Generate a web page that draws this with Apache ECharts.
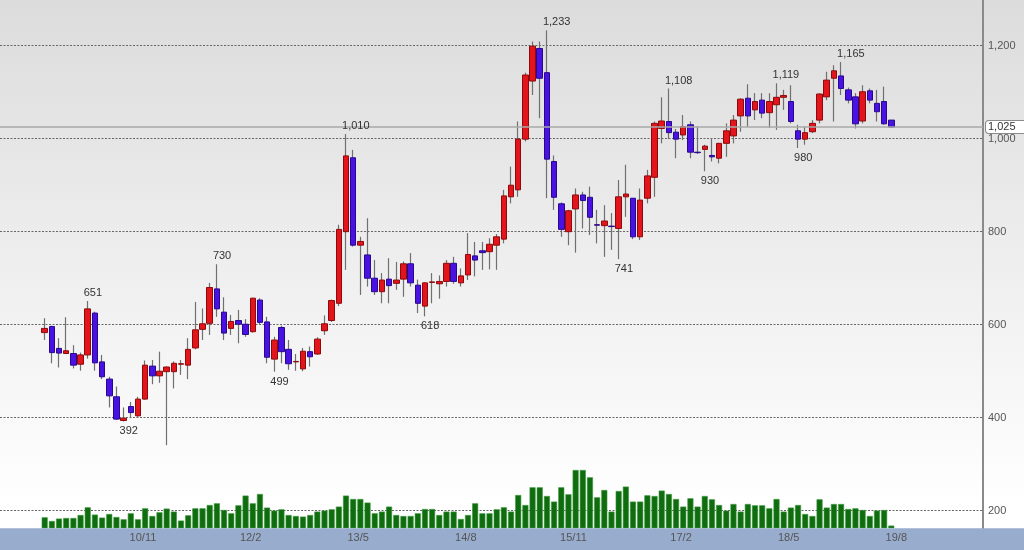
<!DOCTYPE html>
<html><head><meta charset="utf-8">
<script src="https://cdn.jsdelivr.net/npm/echarts@6/dist/echarts.min.js"></script>
<style>html,body{margin:0;padding:0;background:#fff}#c{width:1024px;height:550px}</style>
</head><body><div id="c"></div>
<script>
// Monthly candles 2009/10 .. 2019/8
const categories = [];
(function () { let y = 2009, m = 10; for (let i = 0; i < 119; i++) { categories.push(String(y % 100).padStart(2, '0') + '/' + m); m++; if (m > 12) { m = 1; y++; } } })();

const opens = [583,596,549,538,538,515,535,625,520,483, 445,394,424,404,440,511,490,499,499,515,
 513,550,590,603,677,627,592,609,601,585, 653,606,526,594,547,520,505,542,537,587,
 609,646,800,959,771,750,700,671,698,689, 698,731,685,640,691,688,693,732,690,707,
 748,759,757,771,784,875,890,999,1124,1194, 1142,951,860,800,849,879,874,815,813,812,
 807,875,872,789,872,917,1022,1037,1014,1008, 1030,971,977,964,958,990,1006,1049,1087,1062,
 1083,1056,1073,1089,1080,1017,999,1015,1040,1090, 1130,1135,1105,1090,1038,1103,1076,1080,1040];
const closes = [592,540,539,544,513,535,634,518,488,447, 397,399,411,440,513,490,500,509,517,516,
 547,589,602,680,634,582,607,601,579,657, 605,530,567,542,516,521,543,531,569,602,
 652,805,963,771,779,700,671,696,684,696, 731,690,646,690,692,693,732,693,705,751,
 739,755,773,789,877,900,999,1137,1199,1130, 956,874,805,845,879,867,831,814,823,811,
 875,881,789,868,920,1033,1038,1013,999,1026, 971,970,984,961,990,1017,1040,1085,1049,1080,
 1055,1080,1089,1093,1037,999,1013,1033,1096,1126, 1146,1108,1083,1032,1101,1083,1058,1032,1025];
const lows = [567,517,508,537,506,501,527,501,483,422, 395,392,399,402,439,472,475,341,463,492,
 483,547,567,578,617,567,578,560,574,583, 600,517,499,517,503,501,500,510,535,578,
 606,640,718,768,664,682,664,646,646,675, 660,682,625,618,646,656,682,688,682,696,
 704,718,719,718,775,861,875,994,1094,1044, 872,847,789,771,755,807,793,775,746,761,
 741,832,784,782,861,875,990,999,958,997, 958,967,930,951,947,961,990,1015,1026,1040,
 1044,1023,1019,1062,1033,980,987,1012,1033,1083, 1037,1094,1076,1022,1033,1076,1037,1030,1025];
const highs = [614,598,571,616,556,540,651,628,535,488, 467,422,434,445,523,524,542,510,521,524,
 571,649,635,690,730,659,621,632,612,658, 657,617,574,598,567,537,550,553,573,620,
 654,815,1010,976,789,829,739,711,743,735, 736,754,697,691,711,706,739,746,721,797,
 778,778,786,795,890,940,1037,1142,1209,1209, 1233,964,863,847,893,886,897,847,857,840,
 911,944,872,893,933,1037,1089,1108,1021,1051, 1037,1026,987,1001,991,1033,1051,1087,1117,1098,
 1098,1098,1119,1105,1115,1030,1026,1040,1098,1144, 1158,1165,1110,1098,1115,1108,1105,1112,1040];
const volumes = [110,73,97,103,103,133,210,137,107,143, 113,90,150,90,200,123,160,197,167,77,
 130,200,200,233,250,183,150,230,327,250, 343,207,177,190,133,123,117,133,167,177,
 190,217,327,293,293,257,150,167,217,133, 123,123,150,193,193,133,167,167,93,133,
 250,150,150,190,210,167,333,233,410,410, 323,267,410,340,583,583,510,310,383,167,
 373,417,267,267,330,323,377,343,293,217, 300,217,323,290,233,177,243,167,243,230,
 230,200,293,167,207,233,143,123,290,207, 243,243,193,200,183,123,177,183,27];
const xTickLabels = ['10/11','12/2','13/5','14/8','15/11','17/2','18/5','19/8'];
// annotated extremes: [candle index, 'high'|'low']
const annotations = [[6,'high'],[11,'low'],[24,'high'],[32,'low'],[42,'high'],[53,'low'],[70,'high'],
 [80,'low'],[87,'high'],[92,'low'],[102,'high'],[105,'low'],[111,'high']];

const fmt = v => Number(v).toLocaleString('en-US');
const FONT = 'Liberation Sans';
const wickData = categories.map((c, i) => [opens[i], closes[i], lows[i], highs[i]]);
const bodyData = categories.map((c, i) => [opens[i], closes[i], Math.min(opens[i], closes[i]), Math.max(opens[i], closes[i])]);
const markData = annotations.map(([i, t]) => {
  const v = t === 'high' ? highs[i] : lows[i];
  return { coord: [categories[i], v], value: v,
    label: { offset: t === 'high' ? [-4, -8] : [-4, 10] } };
});

const GTOP = -47.3, GBOT = -53.7; // y-scale 0..1400 mapped so that 1200 -> 45.7px, 200 -> 510.7px
const CL = 41.1, CR = 129.1;

const chart = echarts.init(document.getElementById('c'), null, { renderer: 'canvas' });
chart.setOption({
  animation: false,
  backgroundColor: { type: 'linear', x: 0, y: 0, x2: 0, y2: 1,
    colorStops: [{ offset: 0, color: '#dcdcdc' }, { offset: 0.92, color: '#ffffff' }, { offset: 1, color: '#ffffff' }] },
  textStyle: { fontFamily: FONT },
  graphic: [{ type: 'rect', left: 0, bottom: 0, z: 5, shape: { width: 1024, height: 21.7 }, style: { fill: '#98accd' } }],
  grid: [
    { left: 0, right: 41, top: GTOP, bottom: GBOT, containLabel: false, outerBoundsMode: 'none' },
    { left: CL, right: CR, top: GTOP, bottom: GBOT, containLabel: false, outerBoundsMode: 'none' },
    { left: CL, right: CR, bottom: 21.7, height: 100, containLabel: false, outerBoundsMode: 'none' }
  ],
  xAxis: [
    { gridIndex: 0, type: 'value', min: 0, max: 1, show: false },
    { gridIndex: 1, type: 'category', data: categories, show: false, boundaryGap: true },
    { gridIndex: 2, type: 'category', data: categories, boundaryGap: true, z: 10,
      axisLine: { show: false }, axisTick: { show: false },
      axisLabel: { interval: (i, v) => xTickLabels.includes(v), color: '#555', fontSize: 11, fontFamily: FONT,
        margin: 4, padding: [0, 0, 0, 10] } }
  ],
  yAxis: [
    { gridIndex: 0, type: 'value', position: 'right', min: 0, max: 1400, interval: 200,
      axisLine: { show: true, onZero: false, lineStyle: { color: '#8a8a8a', width: 2 } }, axisTick: { show: false },
      axisLabel: { color: '#555', fontSize: 11, fontFamily: FONT, margin: 5, formatter: fmt },
      splitLine: { show: true, lineStyle: { color: '#666', type: [2, 1.5], width: 1 } } },
    { gridIndex: 1, type: 'value', min: 0, max: 1400, show: false, splitLine: { show: false } },
    { gridIndex: 2, type: 'value', min: 0, max: 1000, show: false, splitLine: { show: false } }
  ],
  series: [
    { type: 'line', xAxisIndex: 0, yAxisIndex: 0, data: [], silent: true,
      markLine: { silent: true, symbol: ['none', 'none'],
        lineStyle: { color: '#a8a8a8', width: 1.5, type: 'solid' },
        label: { position: 'end', distance: 3, formatter: p => fmt(p.value), color: '#333', fontSize: 11, fontFamily: FONT,
          backgroundColor: '#fff', borderColor: '#8a8a8a', borderWidth: 1, borderRadius: 3, padding: [1, 14, 0, 2] },
        data: [{ yAxis: closes[closes.length - 1] }] } },
    { type: 'bar', xAxisIndex: 2, yAxisIndex: 2, data: volumes, barWidth: 6, z: 3,
      itemStyle: { color: '#0f6c0f', borderColor: '#3d973d', borderWidth: 0.6 } },
    { type: 'candlestick', xAxisIndex: 1, yAxisIndex: 1, data: wickData, barWidth: 1, z: 3,
      itemStyle: { color: '#707070', color0: '#707070', borderColor: '#707070', borderColor0: '#707070', borderWidth: 1.2 } },
    { type: 'candlestick', xAxisIndex: 1, yAxisIndex: 1, data: bodyData, barWidth: 6, z: 4,
      itemStyle: { color: '#e3141c', color0: '#4a12e2', borderColor: '#8e0a0a', borderColor0: '#28088e', borderWidth: 1 },
      markPoint: { symbol: 'circle', symbolSize: 0, silent: true, animation: false,
        label: { show: true, position: 'inside', align: 'left', verticalAlign: 'middle', color: '#333', fontSize: 11, fontFamily: FONT,
          formatter: p => fmt(p.value) },
        data: markData } }
  ]
});
</script></body></html>
